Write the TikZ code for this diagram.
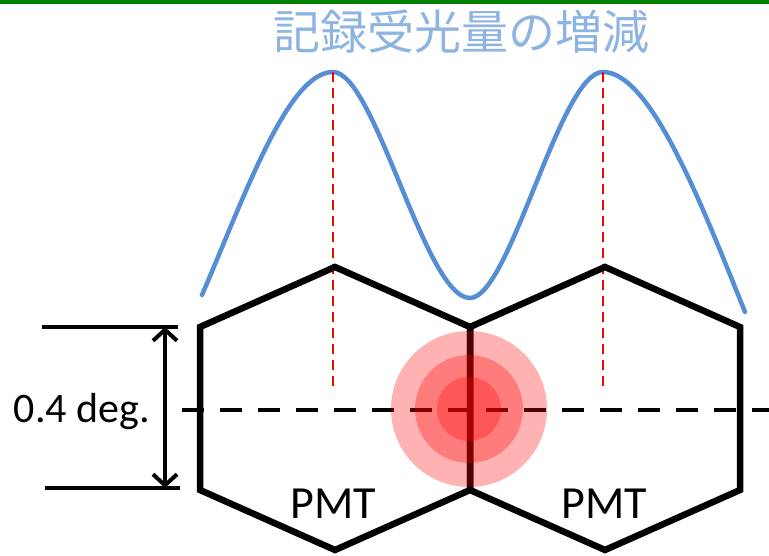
\documentclass[tikz,border=0pt]{standalone}
\usepackage{fontspec}
\setmainfont{Carlito}
\newfontfamily\jpfont{Noto Sans CJK JP}
\usetikzlibrary{arrows.meta}

\definecolor{titleblue}{RGB}{141,180,226}
\definecolor{curveblue}{RGB}{85,142,213}
\definecolor{bargreen}{RGB}{0,128,0}

\begin{document}
\begin{tikzpicture}[
  x=1pt,y=-1pt,
  hexa/.style={draw=black,line width=6.5pt,line join=miter},
  peak/.style={draw=red,line width=2.5pt,dash pattern=on 10pt off 6pt},
  axis/.style={draw=black,line width=4.5pt,dash pattern=on 22pt off 16pt},
  spot/.style={fill=red,fill opacity=0.3},
  lbl/.style={inner sep=0pt,anchor=base},
  a/.style={{Straight Barb[length=11pt,width=24pt]}-{Straight Barb[length=11pt,width=24pt]},line width=4pt}
]
\useasboundingbox (0,0) rectangle (769,556);
\fill[bargreen] (0,0) rectangle (769,4);
\node[text=titleblue,font=\jpfont\fontsize{47}{47}\selectfont] (t) at (461,32) {記録受光量の増減};
% signal
\draw[curveblue,line width=4.5pt,line cap=round]
  (202,295) .. controls (245,195) and (288,72) .. (333,72)
  .. controls (375,72) and (425,298) .. (470,298)
  .. controls (510,298) and (560,72) .. (603,72)
  .. controls (650,72) and (700,200) .. (745,312);
\draw[peak] (333,72) -- (333,387);
\draw[peak] (603,72) -- (603,387);
% two PMTs
\foreach \c in {335,605}
  \draw[hexa] (\c,267) -- (\c+135,327) -- (\c+135,490) -- (\c,550)
    -- (\c-135,490) -- (\c-135,327) -- cycle;
\draw[axis] (182,410) -- (769,410);
% star image
\coordinate (s) at (469,409);
\fill[spot] (s) circle (78);
\fill[spot] (s) circle (54);
\fill[spot] (s) circle (32);
% size
\coordinate (dt) at (165,327);
\coordinate (db) at (165,488);
\draw[line width=4.5pt] (42,327) -- (178,327);
\draw[line width=4.5pt] (45,488) -- (180,488);
\draw[a] (dt) -- (db);
\node[lbl,font=\fontsize{42}{42}\selectfont] (d) at (82,422) {0.4 deg.};
\node[lbl,font=\fontsize{46}{46}\selectfont] (p1) at (333,518) {PMT};
\node[lbl,font=\fontsize{46}{46}\selectfont] (p2) at (604,518) {PMT};
\end{tikzpicture}
\end{document}
